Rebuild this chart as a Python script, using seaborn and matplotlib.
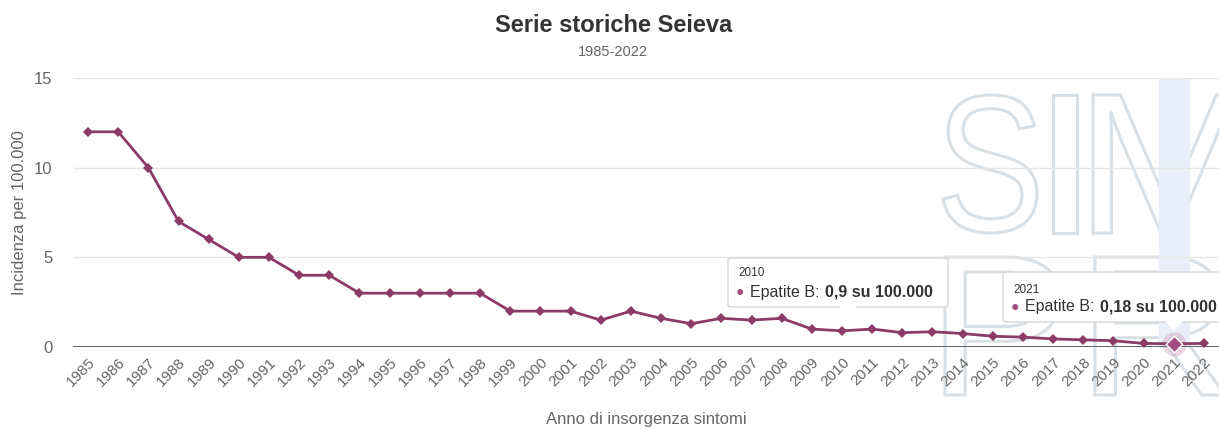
import pandas as pd
import seaborn as sns
import matplotlib.pyplot as plt
from matplotlib.patches import FancyBboxPatch, Polygon, PathPatch
from matplotlib.textpath import TextPath
from matplotlib.font_manager import FontProperties
from matplotlib.transforms import Affine2D, IdentityTransform

# data
years = list(range(1985, 2023))
incidence = [12, 12, 10, 7, 6, 5, 5, 4, 4, 3,
             3, 3, 3, 3, 2, 2, 2, 1.5, 2, 1.6,
             1.3, 1.6, 1.5, 1.6, 1.0, 0.9, 1.0, 0.8, 0.85, 0.75,
             0.6, 0.55, 0.45, 0.4, 0.35, 0.2, 0.18, 0.2]
y_ticks = [0, 5, 10, 15]
tip_years = [2010, 2021]
tip_labels = ['0,9', '0,18']

df = pd.DataFrame({'Anno': years, 'Incidenza': incidence})

sns.set_theme(style='white')
plt.rcParams['font.family'] = ['Liberation Sans', 'DejaVu Sans']

W, H = 1219, 429
fig = plt.figure(figsize=(W / 100, H / 100), dpi=100)
ax = fig.add_axes([73 / W, 1 - 347 / H, 1 - 73 / W, 269 / H])
ax.set_facecolor('none')

# watermark letters (outlined, behind the chart)
fp = FontProperties(family='Liberation Sans')
marks = [('S', 943, 95, 94, 138), ('I', 1053, 95, 24, 138), ('M', 1093, 95, 150, 138),
         ('P', 945, 257, 115, 138), ('R', 1095, 257, 130, 138)]
for ch, lx, ty, lw_, lh in marks:
    tp = TextPath((0, 0), ch, size=100, prop=fp)
    ext = tp.get_extents()
    tr = (Affine2D().translate(-ext.x0, -ext.y0)
          .scale(lw_ / ext.width, lh / ext.height)
          .translate(lx, H - ty - lh))
    pp = PathPatch(tr.transform_path(tp), facecolor='none', edgecolor='#d9e0e5',
                   linewidth=2.2, transform=IdentityTransform(), zorder=-1)
    fig.add_artist(pp)

color = '#8c3a66'
# hover crosshair band at 2021
ax.axvspan(2020.5, 2021.5, color='#e9eefa', zorder=0)

sns.lineplot(data=df, x='Anno', y='Incidenza', ax=ax, color=color,
             marker='D', markersize=5.5, markeredgewidth=0, linewidth=2,
             zorder=3, clip_on=False)

# highlighted point
hv = incidence[years.index(2021)]
ax.scatter([2021], [hv], s=300, color='#c892b4', alpha=0.35, zorder=2, linewidths=0,
           clip_on=False)
ax.scatter([2021], [hv], s=70, marker='D', color='#a14d80', zorder=4,
           edgecolors='white', linewidths=1, clip_on=False)

ax.set_xlim(1984.5, 2022.5)
ax.set_ylim(0, 15)
ax.set_yticks(y_ticks)
ax.set_xticks(years)
ax.set_xticklabels([str(y) for y in years], rotation=45, ha='right',
                   rotation_mode='anchor', fontsize=11, color='#666666')
ax.tick_params(axis='y', labelsize=12, colors='#666666', pad=15, length=0)
ax.tick_params(axis='x', length=0, pad=6)
ax.grid(axis='y', color='#e6e6e6', linewidth=1)
ax.axhline(0, color='#555555', linewidth=1.3, zorder=2)
sns.despine(ax=ax, left=True, bottom=True, top=True, right=True)

ax.set_xlabel('Anno di insorgenza sintomi', fontsize=12, color='#666666')
ax.set_ylabel('Incidenza per 100.000', fontsize=12, color='#666666')
ax.xaxis.set_label_coords(0.5, -0.271)
ax.xaxis.label.set_va('center')
ax.yaxis.set_label_coords(-0.047, 0.5)
ax.yaxis.label.set_va('center')

fig.text(0.503, 1 - 25 / H, 'Serie storiche Seieva', ha='center', va='center',
         fontsize=17, fontweight='bold', color='#333333')
fig.text(0.503, 1 - 52 / H, '1985-2022', ha='center', va='center', fontsize=10.5,
         color='#666666')

# tooltips (in figure pixels)
renderer = fig.canvas.get_renderer()
boxes = [(728, 258, 220, 49, 848, 15, 34), (1003, 272, 240, 50, 1174, 18, 35)]
for (bx, by, bw, bh, px, t1, t2), yr, lab in zip(boxes, tip_years, tip_labels):
    x0, y0 = bx / W, 1 - (by + bh) / H
    box = FancyBboxPatch((x0, y0), bw / W, bh / H, boxstyle='round,pad=0,rounding_size=0.004',
                         transform=fig.transFigure, facecolor='white',
                         edgecolor='#d6d6d6', linewidth=1, zorder=10)
    fig.add_artist(box)
    tri = Polygon([((px - 9) / W, y0 + 1 / H), ((px + 9) / W, y0 + 1 / H),
                   (px / W, y0 - 9 / H)],
                  closed=True, transform=fig.transFigure, facecolor='white',
                  edgecolor='none', zorder=11)
    fig.add_artist(tri)
    fig.text((bx + 10) / W, 1 - (by + t1) / H, str(yr), fontsize=8.5, color='#333333',
             va='center', zorder=12)
    fig.text((bx + 8) / W, 1 - (by + t2) / H, '\u25cf', fontsize=10, color='#a14d80',
             va='center', zorder=12)
    t = fig.text((bx + 22) / W, 1 - (by + t2) / H, 'Epatite B:', fontsize=11.5,
                 color='#333333', va='center', zorder=12)
    ext = t.get_window_extent(renderer)
    fig.text((ext.x1 + 5) / W, 1 - (by + t2) / H, lab + ' su 100.000', fontsize=11.5,
             color='#333333', va='center', fontweight='bold', zorder=12)

fig.savefig('out.png', dpi=100)
